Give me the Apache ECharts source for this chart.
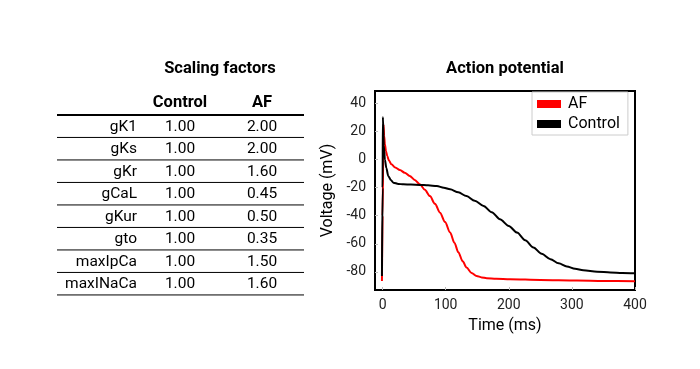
<!DOCTYPE html>
<html>
<head>
<meta charset="utf-8">
<script src="https://cdn.jsdelivr.net/npm/echarts@6/dist/echarts.min.js"></script>
<style>html,body{margin:0;padding:0;background:#fff;}#c{width:700px;height:369px;}</style>
</head>
<body>
<div id="c"></div>
<script>
// Table data
const paramNames = ['gK1','gKs','gKr','gCaL','gKur','gto','maxIpCa','maxINaCa'];
const controlFactors = ['1.00','1.00','1.00','1.00','1.00','1.00','1.00','1.00'];
const afFactors = ['2.00','2.00','1.60','0.45','0.50','0.35','1.50','1.60'];
const tableHeaders = ['Control','AF'];

// Action potential traces [time ms, voltage mV]
const afTrace = [[-1,-86.5],[0,-40],[1.5,25],[2.5,17],[3.7,11],[5.5,6],[7.4,2.6],[10,-0.5],[14,-3.3],[20,-5.5],[27.5,-7.4],[35,-9.3],[43,-11.6],[51,-14.5],[59,-17.6],[67,-21.5],[75,-26],[83,-31.5],[91,-37.8],[99,-44.5],[107,-52],[114,-59.5],[120,-66],[127,-72.5],[133,-77],[141,-80.8],[149,-83],[157,-84],[165,-84.6],[180,-85],[202,-85.3],[250,-85.8],[308,-86.2],[350,-86.5],[400,-86.7]];
const controlTrace = [[-1,-83],[0,-20],[0.5,30.4],[2,10],[3.7,0],[6,-6],[9,-11.6],[13,-14.5],[17,-16.4],[25,-17.3],[33,-17.6],[45,-17.8],[59,-18],[72,-18.3],[86,-18.8],[97,-20],[107,-21.1],[120,-23.3],[133,-26],[146,-29.3],[160,-33],[173,-37.5],[186,-42.5],[200,-47.3],[213,-52],[226,-57.5],[239,-62.7],[252,-67.2],[266,-71],[279,-74],[292,-76.2],[305,-77.8],[318,-78.9],[340,-79.9],[361,-80.5],[380,-80.8],[400,-81]];
const xTicks = [0,100,200,300,400];
const yTicks = [-80,-60,-40,-20,0,20,40];

const chart = echarts.init(document.getElementById('c'), null, {renderer:'canvas'});
const FONT = 'Roboto';
const TFS = 15.5;

// Table graphics built from arrays
const graphics = [];
const lineX1 = 57, lineX2 = 304;
const headerY = 103, firstRowY = 126.7, rowStep = 22.5;
const colX = [180, 262];
tableHeaders.forEach((h,i)=>{
  graphics.push({type:'text', x:colX[i], y:headerY, style:{text:h, fontFamily:FONT, fontSize:16.5, fontWeight:'bold', fill:'#000', textAlign:'center', textVerticalAlign:'middle'}});
});
graphics.push({type:'line', shape:{x1:lineX1,y1:115,x2:lineX2,y2:115}, style:{stroke:'#000', lineWidth:2}});
paramNames.forEach((name,i)=>{
  const y = firstRowY + i*rowStep;
  graphics.push({type:'text', x:137, y:y, style:{text:name, fontFamily:FONT, fontSize:TFS, fill:'#000', textAlign:'right', textVerticalAlign:'middle'}});
  graphics.push({type:'text', x:colX[0], y:y, style:{text:controlFactors[i], fontFamily:FONT, fontSize:TFS, fill:'#000', textAlign:'center', textVerticalAlign:'middle'}});
  graphics.push({type:'text', x:colX[1], y:y, style:{text:afFactors[i], fontFamily:FONT, fontSize:TFS, fill:'#000', textAlign:'center', textVerticalAlign:'middle'}});
  const ly = y + rowStep/2 - 0.5;
  graphics.push({type:'line', shape:{x1:lineX1,y1:ly,x2:lineX2,y2:ly}, style:{stroke:'#000', lineWidth:1}});
});

chart.setOption({
  animation:false,
  backgroundColor:'#fff',
  title:[
    {text:'Scaling factors', left:215, top:64, textAlign:'center', textVerticalAlign:'middle', textStyle:{fontFamily:FONT, fontSize:16.5, fontWeight:'bold', color:'#000'}},
    {text:'Action potential', left:500, top:64, textAlign:'center', textVerticalAlign:'middle', textStyle:{fontFamily:FONT, fontSize:16.5, fontWeight:'bold', color:'#000'}}
  ],
  graphic: graphics,
  legend:{
    orient:'vertical', left:532, top:92, data:['AF','Control'],
    backgroundColor:'#fff', borderColor:'#ccc', borderWidth:1, borderRadius:0,
    padding:[4,8,3,5], itemGap:4, itemWidth:24, itemHeight:8, icon:'rect',
    textStyle:{fontFamily:FONT, fontSize:16, color:'#000', padding:[0,0,0,2]}
  },
  grid:{left:375, right:65, top:91, bottom:79, show:true, borderColor:'#000', borderWidth:2, backgroundColor:'transparent', containLabel:false},
  xAxis:{
    type:'value', min:-12, max:400,
    name:'Time (ms)', nameLocation:'middle', nameGap:28,
    nameTextStyle:{fontFamily:FONT, fontSize:16, color:'#000'},
    axisLine:{show:true, onZero:false, lineStyle:{color:'#000', width:2}},
    axisTick:{show:true, inside:true, length:3, customValues:xTicks, lineStyle:{color:'#bbb'}},
    axisLabel:{customValues:xTicks, fontFamily:FONT, fontSize:14, color:'#222', margin:8},
    splitLine:{show:false}
  },
  yAxis:{
    type:'value', min:-93, max:49,
    name:'Voltage (mV)', nameLocation:'middle', nameGap:39,
    nameTextStyle:{fontFamily:FONT, fontSize:16, color:'#000'},
    axisLine:{show:true, onZero:false, lineStyle:{color:'#000', width:2}},
    axisTick:{show:true, inside:true, length:3, customValues:yTicks, lineStyle:{color:'#bbb'}},
    axisLabel:{customValues:yTicks, fontFamily:FONT, fontSize:14, color:'#222', margin:9},
    splitLine:{show:false}
  },
  series:[
    {name:'AF', type:'line', data:afTrace, showSymbol:false, smooth:0.3, smoothMonotone:'x', lineStyle:{color:'#ff0000', width:2}, itemStyle:{color:'#ff0000'}, z:2},
    {name:'Control', type:'line', data:controlTrace, showSymbol:false, smooth:0.3, smoothMonotone:'x', lineStyle:{color:'#000', width:2}, itemStyle:{color:'#000'}, z:3}
  ]
});
</script>
</body>
</html>
